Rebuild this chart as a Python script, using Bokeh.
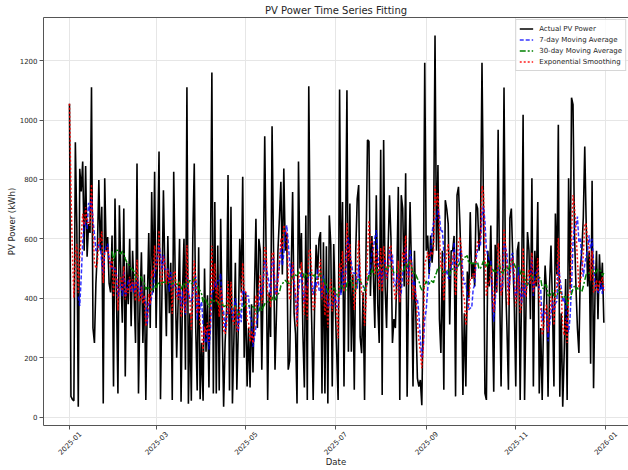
import math
import pandas as pd
from bokeh.plotting import figure
from bokeh.models import (Range1d, FixedTicker, DatetimeTickFormatter, LinearAxis,
                          DatetimeAxis)
from bokeh.embed import file_html
from bokeh.resources import INLINE

# ---------------- data ----------------
start_date = "2025-01-01"
actual = [
    1055, 70, 60, 55, 925, 640, 35, 836, 760, 860,
    560, 845, 540, 650, 620, 1110, 300, 250, 450, 560,
    798, 560, 708, 46, 804, 560, 606, 450, 420, 611,
    103, 736, 420, 80, 713, 480, 318, 702, 137, 520,
    380, 600, 306, 560, 420, 250, 854, 80, 374, 555,
    250, 480, 58, 380, 620, 300, 758, 420, 826, 300,
    560, 894, 60, 420, 764, 480, 272, 610, 350, 520,
    58, 826, 480, 200, 385, 600, 52, 420, 600, 160,
    1110, 45, 350, 55, 600, 854, 300, 90, 572, 60,
    250, 55, 500, 220, 410, 100, 500, 1160, 80, 724,
    80, 578, 90, 668, 330, 35, 250, 360, 815, 90,
    708, 46, 260, 520, 92, 300, 600, 420, 809, 200,
    420, 103, 300, 100, 380, 150, 420, 668, 300, 600,
    560, 160, 480, 945, 530, 58, 420, 270, 979, 560,
    160, 350, 560, 670, 792, 480, 837, 560, 620, 160,
    190, 480, 758, 350, 280, 46, 860, 500, 620, 280,
    100, 679, 58, 1114, 560, 320, 58, 385, 580, 480,
    600, 623, 80, 589, 80, 575, 46, 679, 580, 103,
    583, 385, 220, 58, 1103, 420, 724, 103, 560, 1100,
    220, 719, 220, 480, 92, 560, 735, 781, 270, 215,
    420, 58, 560, 933, 928, 408, 610, 480, 300, 747,
    380, 250, 900, 75, 933, 440, 300, 560, 747, 600,
    250, 330, 300, 480, 775, 58, 747, 702, 440, 821,
    69, 450, 724, 490, 103, 560, 330, 131, 103, 125,
    40, 380, 1193, 560, 611, 480, 611, 520, 600, 1284,
    560, 849, 330, 216, 560, 92, 730, 700, 650, 312,
    560, 560, 610, 70, 747, 775, 645, 465, 75, 350,
    103, 490, 400, 690, 465, 520, 440, 719, 702, 560,
    645, 1193, 710, 80, 58, 560, 440, 645, 380, 86,
    580, 420, 967, 440, 103, 480, 1109, 465, 300, 92,
    670, 702, 530, 380, 103, 560, 590, 58, 440, 1018,
    58, 380, 623, 560, 330, 804, 103, 560, 440, 724,
    80, 300, 58, 350, 510, 420, 69, 440, 578, 380,
    103, 685, 480, 984, 69, 350, 35, 216, 465, 58,
    804, 430, 1075, 1052, 623, 440, 300, 216, 500, 560,
    670, 911, 645, 440, 560, 180, 796, 97, 420, 560,
    330, 548, 430, 520, 318,
]
tick_dates = ["2025-01-01", "2025-03-01", "2025-05-01", "2025-07-01",
              "2025-09-01", "2025-11-01", "2026-01-01"]
y_ticks = [0, 200, 400, 600, 800, 1000, 1200]
series_labels = ["Actual PV Power", "7-day Moving Average",
                 "30-day Moving Average", "Exponential Smoothing"]

dates = pd.date_range(start_date, periods=len(actual), freq="D")
s = pd.Series(actual, dtype=float)
ma7 = s.rolling(7).mean()
ma30 = s.rolling(30).mean()
es = s.ewm(alpha=0.3, adjust=False).mean()

# ---------------- figure ----------------
t0 = pd.Timestamp(start_date)
x_start = t0 - pd.Timedelta(days=17.7)
x_end = t0 + pd.Timedelta(days=380.8)
y_min, y_max = -28, 1345

FONT = "DejaVu Sans"
TXT = "#262626"
SPINE = "#555555"

p = figure(width=628, height=470, x_axis_type="datetime",
           x_range=Range1d(x_start, x_end), y_range=Range1d(y_min, y_max),
           output_backend="svg", toolbar_location=None,
           title="PV Power Time Series Fitting")
p.min_border_left = 43
p.min_border_right = 0
p.min_border_bottom = 45
p.min_border_top = 0
p.outline_line_color = None
p.background_fill_color = "white"
p.border_fill_color = "white"

p.title.align = "center"
p.title.text_font = FONT
p.title.text_font_size = "10px"
p.title.text_font_style = "normal"
p.title.text_color = TXT
p.title.standoff = 4

fmt = DatetimeTickFormatter(
    milliseconds="%Y-%m", seconds="%Y-%m", minsec="%Y-%m", minutes="%Y-%m",
    hourmin="%Y-%m", hours="%Y-%m", days="%Y-%m", months="%Y-%m", years="%Y-%m")
tick_ms = [pd.Timestamp(d).value / 1e6 for d in tick_dates]
xt = FixedTicker(ticks=tick_ms)
yt = FixedTicker(ticks=y_ticks)
p.xaxis.ticker = xt
p.xgrid.ticker = xt
p.yaxis.ticker = yt
p.ygrid.ticker = yt
p.xaxis.formatter = fmt

for ax in (p.xaxis, p.yaxis):
    ax.axis_line_color = SPINE
    ax.major_tick_line_color = SPINE
    ax.minor_tick_line_color = None
    ax.major_tick_out = 4
    ax.major_tick_in = 0
    ax.major_label_text_font = FONT
    ax.major_label_text_font_size = "7px"
    ax.major_label_text_color = TXT
    ax.major_label_standoff = 2
    ax.axis_label_text_font = FONT
    ax.axis_label_text_font_size = "8.5px"
    ax.axis_label_text_font_style = "normal"
    ax.axis_label_text_color = TXT
p.yaxis.axis_label = "PV Power (kWh)"
p.yaxis.axis_label_standoff = 0
# the spine axis carries only line + tick marks; labels come from the axis below
p.xaxis.major_label_text_color = None
p.xaxis.major_label_standoff = 0

# label axis: rotated labels centred under the ticks (matplotlib style);
# right-aligned rotated text is anchored half a label length to the right
label_shift = pd.Timedelta(days=7.1)
label_ticks = [(pd.Timestamp(d) + label_shift).value / 1e6 for d in tick_dates]
lab_ax = DatetimeAxis(ticker=FixedTicker(ticks=label_ticks), formatter=fmt,
                      axis_line_color=None, major_tick_line_color=None,
                      minor_tick_line_color=None, major_tick_out=0, major_tick_in=0,
                      minor_tick_out=0, minor_tick_in=0,
                      major_label_orientation=math.pi / 4,
                      major_label_standoff=3,
                      major_label_text_font=FONT, major_label_text_font_size="7px",
                      major_label_text_color=TXT,
                      axis_label="Date", axis_label_standoff=-3,
                      axis_label_text_font=FONT, axis_label_text_font_size="8.5px",
                      axis_label_text_font_style="normal", axis_label_text_color=TXT)
p.add_layout(lab_ax, "below")

top = LinearAxis(ticker=FixedTicker(ticks=[]), axis_line_color=SPINE,
                 major_tick_line_color=None, minor_tick_line_color=None,
                 major_label_standoff=0, major_tick_out=0, major_tick_in=0,
                 minor_tick_out=0)
p.add_layout(top, "above")

p.grid.grid_line_color = "#e6e6e6"
p.grid.grid_line_width = 1

p.line(dates, s, color="black", line_width=1.6, legend_label=series_labels[0])
p.line(dates, ma7, color="blue", line_width=1.5, line_dash="4 2", alpha=0.8,
       legend_label=series_labels[1])
p.line(dates, ma30, color="green", line_width=1.5, line_dash="6 2 2 2",
       legend_label=series_labels[2])
p.line(dates, es, color="red", line_width=1.5, line_dash="2 2", alpha=0.9,
       legend_label=series_labels[3])

lg = p.legend[0]
lg.location = "top_right"
lg.margin = 2
lg.padding = 3
lg.spacing = 0
lg.glyph_width = 14
lg.glyph_height = 11
lg.label_height = 11
lg.label_standoff = 6
lg.label_text_font = FONT
lg.label_text_font_size = "7px"
lg.label_text_color = TXT
lg.border_line_color = "#cccccc"
lg.border_line_alpha = 0.8
lg.background_fill_color = "white"
lg.background_fill_alpha = 0.8

open("out.html", "w").write(file_html(p, INLINE))
